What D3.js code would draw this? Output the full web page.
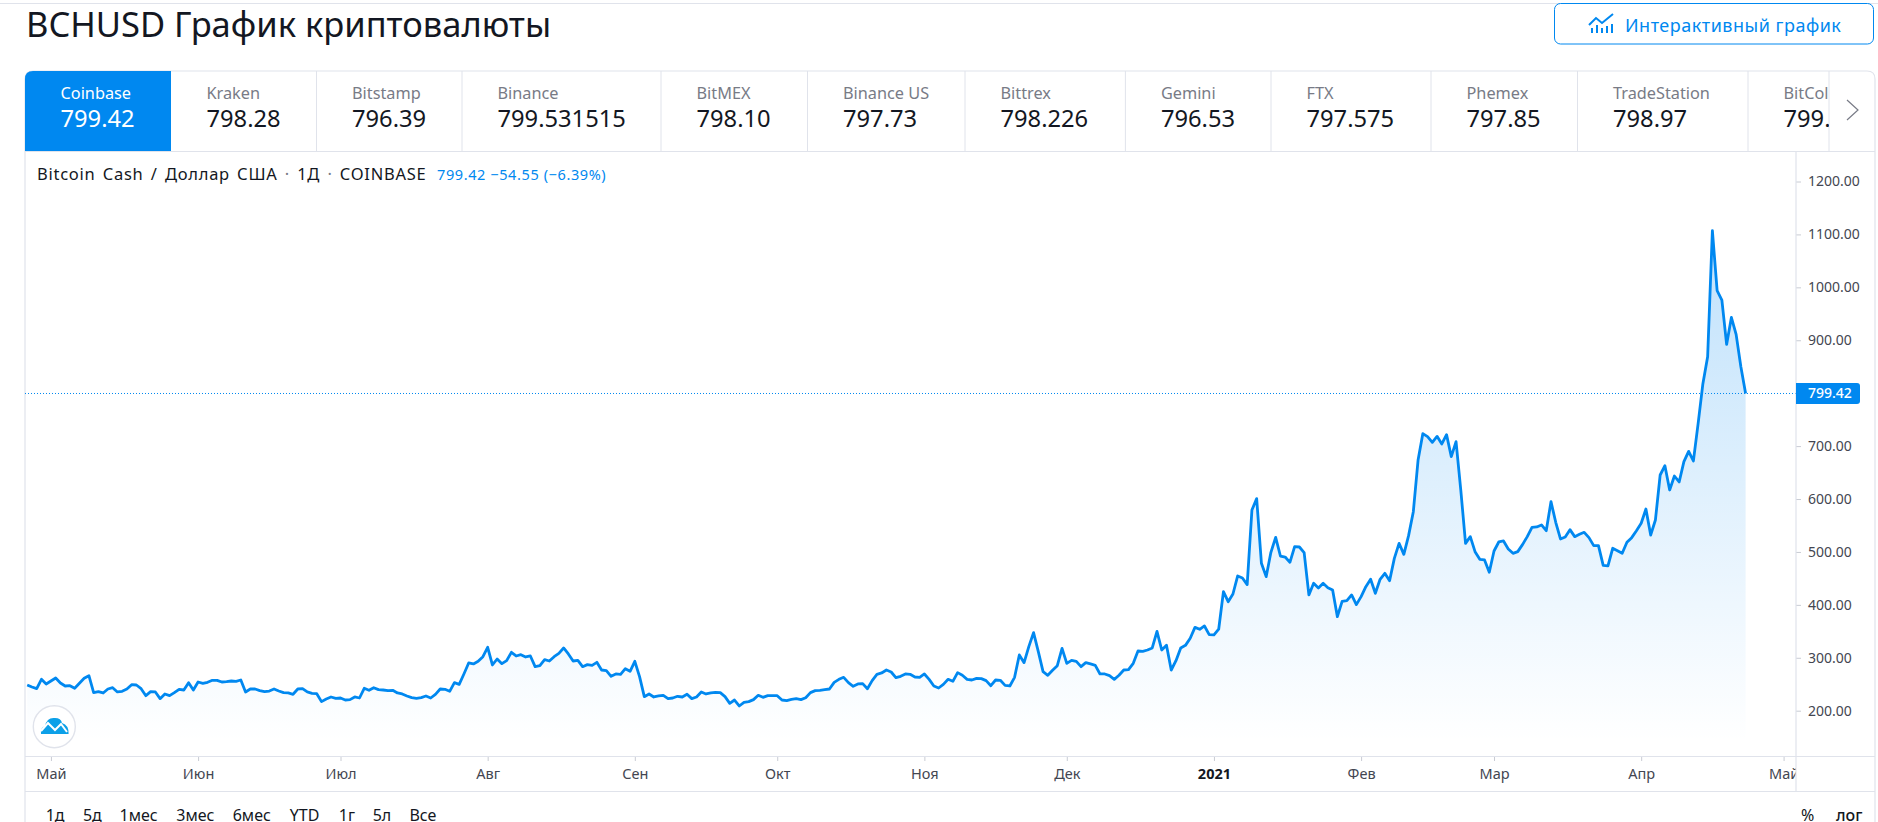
<!DOCTYPE html>
<html lang="ru">
<head>
<meta charset="utf-8">
<title>BCHUSD</title>
<script src="https://cdn.jsdelivr.net/npm/d3@7"></script>
<style>
html,body{margin:0;padding:0;background:#fff;overflow:hidden}
svg{display:block}
text{font-family:"Noto Sans",sans-serif}
</style>
</head>
<body>
<svg id="c" width="1878" height="822"></svg>
<script>
// ---- data ----
const startDate = "2020-04-26";
const closeValues = [
248.6,244.8,241.6,259.3,250.5,256.1,261.8,252.4,246.7,247.3,242.3,251.7,261.2,266.2,234.1,236,233.5,241,243.5,235.4,236.6,241,249.2,248.6,241.6,228.4,236,235.4,222.8,231.6,228.4,234.1,240.4,239.1,253,239.1,254.2,251.7,253.6,257.4,257.4,254.2,254.9,256.1,255.5,258,235.4,241,241,237.9,236,237.2,241,237.2,234.1,233.5,231,241,241.6,235.4,232.8,232.2,217.1,222.1,
225.9,223.4,224,220.2,220.9,225.9,224,242.3,238.5,243.5,239.8,239.1,237.9,238.5,233.5,231.6,227.8,224.7,223.4,224.7,227.8,224,230.9,241,240.4,236.6,253,249.8,269.4,290.2,288.3,293.3,302.1,319.8,286.4,297.7,288.9,294.6,310.3,303.4,305.9,301.5,303.4,283.2,285.1,296.4,293.9,302.1,308.4,318.5,307.2,293.9,295.2,283.2,287,285.7,291.4,276.9,275.7,265,269.4,268.7,279.4,274.4,293.3,264.3,
226.5,231.6,225.9,227.8,229.1,222.8,224,227.2,225.9,231,222.8,225.9,235.4,231.6,233.5,234.7,234.1,226.5,213.9,220.2,208.9,215.8,217.1,220.9,229.1,225.3,228.4,228.4,228.4,220.2,219,221.5,222.8,220.9,224.6,234.1,237.9,238.5,239.8,241,253.6,259.3,263.1,253,246.1,250.5,251.1,241.6,256.8,268.7,271.3,276.9,273.1,262.4,265,269.4,268.7,263.7,263.1,269.4,259.3,246.7,242.9,
249.8,259.3,255.5,271.9,266.9,259.3,258,261.2,260.6,256.8,247.3,258,257.4,247.9,246.7,263.1,305.3,290.8,321,347.5,311.6,273.8,266.9,276.3,285.1,317.9,289.5,295.2,293.3,283.2,290.8,288.3,285.7,269.4,269.4,266.2,259.3,266.9,276.9,277.6,289.5,312.8,312.2,314.7,318.5,350,314.7,323.5,276.9,294.6,318.5,323.5,336.8,357.5,353.8,360.1,343.7,343.1,354,
425,406,420.5,454.6,450.8,438.2,579.3,600.7,478.5,453.3,499.3,527.6,492.3,490.4,480.4,510,509.3,498.6,418.7,440.7,431.9,440.7,432.5,428.1,377.7,406.7,407.9,418.7,400.4,415.5,434.4,448.3,421.8,448.3,459.6,445.7,487.9,516.3,495.5,530.8,576.1,673.7,723.5,717.8,707.1,718.4,704,721.6,680,708.4,617,516.3,528.9,500.5,486,
484.8,461.5,501.8,518.8,520.7,505.6,497.4,500.6,513.8,528.9,546.5,547.2,551,540.2,595,556,524.5,528.3,542.1,528.9,533.3,537.1,527,511.9,511.9,474.7,473.5,506.9,502.4,497.4,518.2,527,540.2,554.1,581.2,532,560.4,645.4,663,617.1,643.5,632.2,670.6,690.1,672,
743,818,868.9,1107,993.6,976,892.2,943.2,911.1,850,799.42
];
const lastPrice = 799.42;
const priceTicks = [200,300,400,500,600,700,900,1000,1100,1200];
const monthTicks = ["2020-05-01","2020-06-01","2020-07-01","2020-08-01","2020-09-01","2020-10-01","2020-11-01","2020-12-01","2021-01-01","2021-02-01","2021-03-01","2021-04-01","2021-05-01"];
const monthLabels = ["Май","Июн","Июл","Авг","Сен","Окт","Ноя","Дек","2021","Фев","Мар","Апр","Май"];
const exchanges = ["Coinbase","Kraken","Bitstamp","Binance","BitMEX","Binance US","Bittrex","Gemini","FTX","Phemex","TradeStation","BitCol"];
const exchangePrices = ["799.42","798.28","796.39","799.531515","798.10","797.73","798.226","796.53","797.575","797.85","798.97","799.531"];
const ranges = ["1д","5д","1мес","3мес","6мес","YTD","1г","5л","Все"];

// ---- layout ----
const W = 1878, H = 822;
const plot = {left:25, right:1796, top:152, bottom:756};
const frameRight = 1875, footerY = 791;
const tabTop = 71, tabBottom = 151;
const tabEdges = [25,171,316.5,462,661,807.5,965,1125.4,1271,1431,1577.5,1748,1829];
const rangeX = [45.7,82.9,119.6,176.3,232.7,289.8,338.8,372.7,409.4];
const BLUE = "#0088f0", BORDER = "#e0e3eb", TXT = "#131722", MUTED = "#787b86", AX = "#434651";

const svg = d3.select("#c");
const defs = svg.append("defs");
const parse = d3.utcParse("%Y-%m-%d");
const d0 = parse(startDate);
const dates = closeValues.map((_, i) => d3.utcDay.offset(d0, i));
const data = closeValues.map((v, i) => ({date:dates[i], v}));

const x = d3.scaleUtc()
  .domain([d0, parse(monthTicks[12])])
  .range([27.2, 27.2 + 370 * 4.747]);
const y = d3.scaleLinear().domain([200, 1200]).range([710.7, 181.5]);

// clip paths
defs.append("clipPath").attr("id","plotClip").append("rect")
  .attr("x",plot.left).attr("y",plot.top).attr("width",plot.right-plot.left).attr("height",footerY-plot.top);
defs.append("clipPath").attr("id","tabClip").append("rect")
  .attr("x",tabEdges[0]).attr("y",tabTop).attr("width",tabEdges[12]-tabEdges[0]).attr("height",tabBottom-tabTop);
defs.append("clipPath").attr("id","axisClip").append("rect")
  .attr("x",plot.left).attr("y",-5).attr("width",plot.right-plot.left).attr("height",50);
const grad = defs.append("linearGradient").attr("id","fill")
  .attr("gradientUnits","userSpaceOnUse").attr("x1",0).attr("x2",0)
  .attr("y1",y(1107)).attr("y2",plot.bottom-14);
grad.append("stop").attr("offset",0).attr("stop-color",BLUE).attr("stop-opacity",0.25);
grad.append("stop").attr("offset",1).attr("stop-color",BLUE).attr("stop-opacity",0);

// top rule
svg.append("line").attr("x1",0).attr("x2",W).attr("y1",3.5).attr("y2",3.5).attr("stroke",BORDER).attr("stroke-width",1);

// title
svg.append("text").attr("x",26).attr("y",37).attr("font-size",34.5).attr("fill",TXT)
  .text("BCHUSD График криптовалюты");

// button
svg.append("rect").attr("x",1554.5).attr("y",3.5).attr("width",319).attr("height",40.5).attr("rx",6)
  .attr("fill","#fff").attr("stroke",BLUE).attr("stroke-width",1);
svg.append("path").attr("fill","none").attr("stroke",BLUE).attr("stroke-width",2)
  .attr("d","M1589 25 L1596 18 L1602 23 L1613 14");
[[1591,28],[1596,25],[1601,28],[1606,26],[1611,24]].forEach(([bx,by]) =>
  svg.append("rect").attr("x",bx).attr("y",by).attr("width",2).attr("height",33-by).attr("fill",BLUE));
svg.append("text").attr("x",1625).attr("y",32).attr("font-size",18).attr("letter-spacing",0.5).attr("fill",BLUE).text("Интерактивный график");

// frame + tabs
svg.append("path").attr("fill","none").attr("stroke",BORDER).attr("stroke-width",1.2)
  .attr("d",`M25 ${footerY+31} V${tabTop+8} Q25 ${tabTop} 33 ${tabTop} H${frameRight-8} Q${frameRight} ${tabTop} ${frameRight} ${tabTop+8} V${footerY+31}`);
svg.append("path").attr("fill",BLUE)
  .attr("d",`M25 ${tabBottom} V${tabTop+8} Q25 ${tabTop} 33 ${tabTop} H${tabEdges[1]} V${tabBottom} Z`);
svg.append("line").attr("x1",25).attr("x2",frameRight).attr("y1",tabBottom+.5).attr("y2",tabBottom+.5).attr("stroke",BORDER).attr("stroke-width",1.2);
tabEdges.slice(2).forEach(e => svg.append("line").attr("x1",e).attr("x2",e).attr("y1",tabTop).attr("y2",tabBottom).attr("stroke",BORDER));

const tabG = svg.append("g").attr("clip-path","url(#tabClip)");
exchanges.forEach((name,i) => {
  const tx = tabEdges[i] + 35.5;
  tabG.append("text").attr("x",tx).attr("y",99).attr("font-size",16.3).attr("fill",i?MUTED:"#fff").text(name);
  tabG.append("text").attr("x",tx).attr("y",127).attr("font-size",23.7).attr("fill",i?TXT:"#fff").text(exchangePrices[i]);
});
svg.append("path").attr("fill","none").attr("stroke",MUTED).attr("stroke-width",1.2)
  .attr("d","M1847 100 L1858 110 L1847 120");

// legend
const leg = svg.append("text").attr("x",37).attr("y",180).attr("font-size",16.5)
  .attr("letter-spacing",0.75).attr("word-spacing",2.2).attr("fill",TXT);
leg.append("tspan").text("Bitcoin Cash / Доллар США ");
leg.append("tspan").attr("fill",MUTED).text("·");
leg.append("tspan").text(" 1Д ");
leg.append("tspan").attr("fill",MUTED).text("·");
leg.append("tspan").text(" COINBASE");
svg.append("text").attr("x",437).attr("y",180).attr("font-size",14.5).attr("letter-spacing",0.6).attr("fill",BLUE)
  .text("799.42  −54.55 (−6.39%)");

// series
const plotG = svg.append("g").attr("clip-path","url(#plotClip)");
plotG.append("path").datum(data).attr("fill","url(#fill)")
  .attr("d",d3.area().x(d=>x(d.date)).y0(plot.bottom).y1(d=>y(d.v)));
plotG.append("line").attr("x1",plot.left).attr("x2",plot.right).attr("y1",y(lastPrice)).attr("y2",y(lastPrice))
  .attr("stroke",BLUE).attr("stroke-width",1).attr("stroke-dasharray","1 2");
plotG.append("path").datum(data).attr("fill","none").attr("stroke",BLUE).attr("stroke-width",2.8)
  .attr("stroke-linejoin","round")
  .attr("d",d3.line().x(d=>x(d.date)).y(d=>y(d.v)));

// logo
svg.append("ellipse").attr("cx",54.3).attr("cy",726.7).attr("rx",21).attr("ry",21)
  .attr("fill","#fff").attr("stroke",BORDER).attr("stroke-width",1.4);
svg.append("path").attr("fill","#0ca0e8")
  .attr("d","M41 734 Q40 728 45 726 Q47 717 55 718 Q61 718 62 723 Q69 725 68.6 734 Z");
svg.append("path").attr("fill","none").attr("stroke","#fff").attr("stroke-width",2)
  .attr("d","M41 731 L48 723 L55 730 L61 724 L67 732");

// x axis
const xAxis = d3.axisBottom(x)
  .tickValues(monthTicks.map(parse))
  .tickSize(5).tickPadding(6)
  .tickFormat((d,i)=>monthLabels[i]);
const xG = svg.append("g").attr("transform",`translate(0,${plot.bottom})`).call(xAxis).attr("clip-path","url(#axisClip)");
xG.select(".domain").remove();
xG.selectAll("line").attr("stroke","#c9ccd4");
xG.selectAll("text").attr("font-size",14.5).attr("font-family",'"Noto Sans",sans-serif')
  .attr("dy",null).attr("y",23)
  .attr("font-weight",(d,i)=>monthLabels[i]==="2021"?700:400)
  .attr("fill",(d,i)=>monthLabels[i]==="2021"?TXT:AX);
svg.append("line").attr("x1",25).attr("x2",frameRight).attr("y1",plot.bottom+.5).attr("y2",plot.bottom+.5).attr("stroke",BORDER).attr("stroke-width",1.2);
svg.append("line").attr("x1",25).attr("x2",frameRight).attr("y1",footerY+.5).attr("y2",footerY+.5).attr("stroke",BORDER).attr("stroke-width",1.2);

// y axis
const yAxis = d3.axisRight(y).tickValues(priceTicks).tickSize(5).tickPadding(7).tickFormat(d3.format(".2f"));
const yG = svg.append("g").attr("transform",`translate(${plot.right},0)`).call(yAxis);
yG.select(".domain").remove();
yG.selectAll("line").attr("stroke","#c9ccd4");
yG.selectAll("text").attr("font-size",14).attr("fill",AX).attr("font-family",'"Noto Sans",sans-serif');
svg.append("line").attr("x1",plot.right).attr("x2",plot.right).attr("y1",plot.top).attr("y2",footerY).attr("stroke",BORDER).attr("stroke-width",1.2);

// price label
const py = y(lastPrice);
svg.append("path").attr("fill",BLUE)
  .attr("d",`M${plot.right} ${py-10.5} H1857 Q1860 ${py-10.5} 1860 ${py-7.5} V${py+7.5} Q1860 ${py+10.5} 1857 ${py+10.5} H${plot.right} Z`);
svg.append("text").attr("x",1808).attr("y",py+5).attr("font-size",14).attr("font-weight",500).attr("fill","#fff")
  .text(d3.format(".2f")(lastPrice));

// footer
ranges.forEach((r,i)=>svg.append("text").attr("x",rangeX[i]).attr("y",821).attr("font-size",16).attr("fill",TXT).text(r));
svg.append("text").attr("x",1801).attr("y",821).attr("font-size",16).attr("fill",TXT).text("%");
svg.append("text").attr("x",1836).attr("y",821).attr("font-size",16).attr("font-weight",500).attr("fill",TXT).text("лог");
</script>
</body>
</html>
